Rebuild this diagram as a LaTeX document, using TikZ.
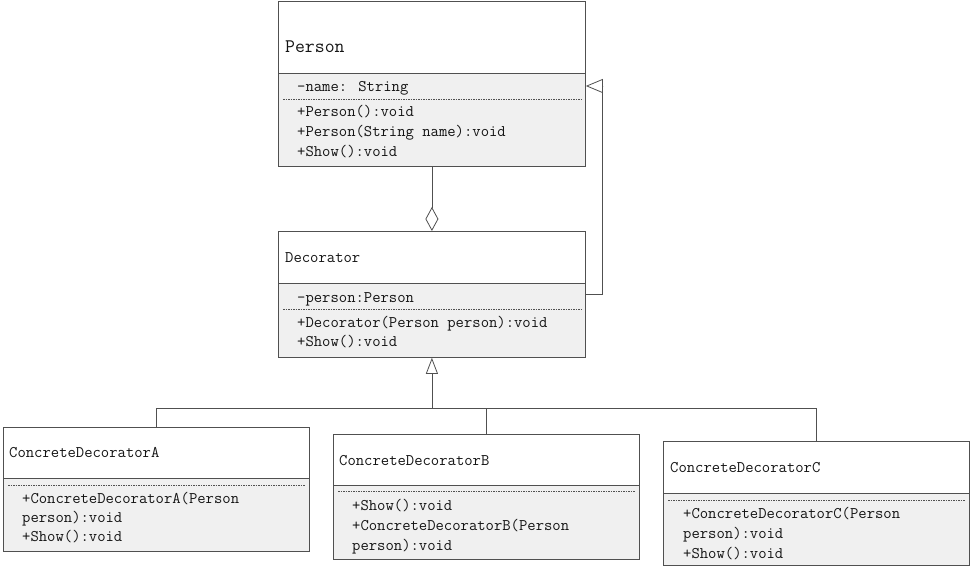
\documentclass[tikz,border=0pt]{standalone}
\usepackage{fontspec}
\usetikzlibrary{arrows.meta,calc}
\definecolor{lc}{RGB}{80,80,80}
\definecolor{tc}{RGB}{20,20,20}
\definecolor{bodyfill}{RGB}{240,240,240}
\begin{document}
\begin{tikzpicture}[x=1pt,y=-1pt,
  hdr/.style={draw=lc, fill=white, line width=0.8pt, inner sep=0pt, anchor=north west},
  body/.style={draw=lc, fill=bodyfill, line width=0.8pt, inner sep=0pt, anchor=north west},
  txt/.style={anchor=base west, inner sep=0pt, text=tc, font=\ttfamily\fontsize{16.2}{18}\selectfont},
  bigtxt/.style={anchor=base west, inner sep=0pt, text=tc, font=\ttfamily\fontsize{19.2}{21}\selectfont},
  sep/.style={draw=lc, line width=0.6pt, dash pattern=on 1.5pt off 1pt},
  conn/.style={draw=lc, line width=0.8pt},
  gen/.style={conn, -{Triangle[open, length=17pt, width=14pt, fill=white]}},
  inh/.style={conn, -{Triangle[open, length=16pt, width=12pt, fill=white]}},
  agg/.style={conn, -{Diamond[open, length=24pt, width=13pt, fill=white]}}
]
\useasboundingbox (0,0) rectangle (971,569);
\fill[white] (0,0) rectangle (971,569);

% Person
\node[hdr, minimum width=307pt, minimum height=72pt] (pH) at (278,1) {};
\node[body, minimum width=307pt, minimum height=93pt] (pB) at (278,73) {};
\draw[sep] (283,99) -- (581,99);
\node[bigtxt] (pT) at (285,53) {Person};
\node[txt] (p1) at (297,91.5) {-name: String};
\node[txt] (p2) at (297,116.5) {+Person():void};
\node[txt] (p3) at (297,136.5) {+Person(String name):void};
\node[txt] (p4) at (297,156.5) {+Show():void};

% Decorator
\node[hdr, minimum width=307pt, minimum height=52pt] (dH) at (278,231) {};
\node[body, minimum width=307pt, minimum height=74pt] (dB) at (278,283) {};
\draw[sep] (283,309) -- (581,309);
\node[txt] (dT) at (285,262) {Decorator};
\node[txt] (d1) at (297,302) {-person:Person};
\node[txt] (d2) at (297,327) {+Decorator(Person person):void};
\node[txt] (d3) at (297,346.5) {+Show():void};

% Concrete A
\node[hdr, minimum width=306pt, minimum height=51pt] (aH) at (3,427) {};
\node[body, minimum width=306pt, minimum height=73pt] (aB) at (3,478) {};
\draw[sep] (8,485) -- (305,485);
\node[txt] (aT) at (9,457) {ConcreteDecoratorA};
\node[txt] (a1) at (22,503) {+ConcreteDecoratorA(Person};
\node[txt] (a2) at (22,522) {person):void};
\node[txt] (a3) at (22,541.5) {+Show():void};

% Concrete B
\node[hdr, minimum width=306pt, minimum height=51pt] (bH) at (333,434) {};
\node[body, minimum width=306pt, minimum height=74pt] (bB) at (333,485) {};
\draw[sep] (338,491) -- (635,491);
\node[txt] (bT) at (339,465.5) {ConcreteDecoratorB};
\node[txt] (b1) at (352,510) {+Show():void};
\node[txt] (b2) at (352,530) {+ConcreteDecoratorB(Person};
\node[txt] (b3) at (352,550) {person):void};

% Concrete C
\node[hdr, minimum width=306pt, minimum height=52pt] (cH) at (663,441) {};
\node[body, minimum width=306pt, minimum height=72pt] (cB) at (663,493) {};
\draw[sep] (668,500) -- (965,500);
\node[txt] (cT) at (670,472.5) {ConcreteDecoratorC};
\node[txt] (c1) at (683,518) {+ConcreteDecoratorC(Person};
\node[txt] (c2) at (683,538) {person):void};
\node[txt] (c3) at (683,558) {+Show():void};

% Connectors
\draw[agg] (pB.south) -- (dH.north);
\draw[gen] ([yshift=-11pt]dB.north east) -- ++(17,0) |- ([yshift=-13pt]pB.north east);
\coordinate (bus) at (dB.south |- 0,408);
\draw[inh] (bus) -- (dB.south);
\draw[conn] (aH.north) |- (bus);
\draw[conn] (cH.north) |- (bus);
\draw[conn] (bH.north) -- (bH.north |- bus);
\end{tikzpicture}
\end{document}
